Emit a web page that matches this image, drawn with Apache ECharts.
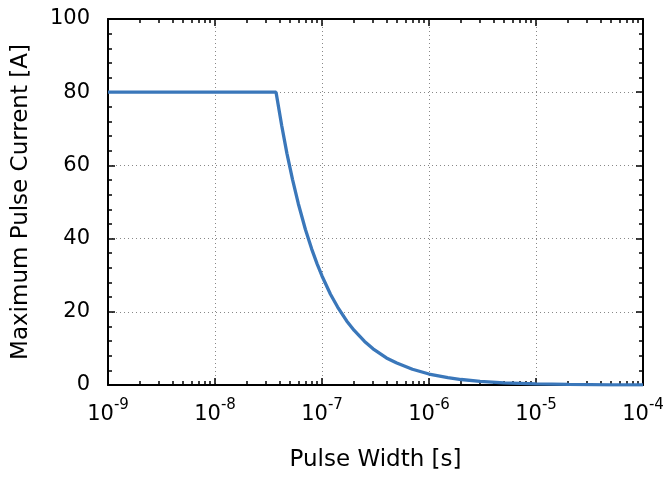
<!DOCTYPE html>
<html>
<head>
<meta charset="utf-8">
<script src="https://cdn.jsdelivr.net/npm/echarts@6/dist/echarts.min.js"></script>
<style>html,body{margin:0;padding:0;background:#fff;}#c{width:670px;height:477px;}</style>
</head>
<body>
<div id="c"></div>
<script>
// Pulse width [s]
const pulseWidth = [1e-9, 3.72e-8, 4.2e-8, 4.7e-8, 5.3e-8, 6e-8, 7e-8, 8e-8, 9e-8, 1e-7, 1.2e-7, 1.4e-7, 1.7e-7, 2e-7, 2.5e-7, 3e-7, 4e-7, 5e-7, 7e-7, 1e-6, 1.5e-6, 2e-6, 3e-6, 5e-6, 1e-5, 2e-5, 5e-5, 1e-4];
// Maximum pulse current [A]
const maxCurrent = [80, 80, 70.9, 63.3, 56.2, 49.6, 42.5, 37.2, 33.1, 29.8, 24.8, 21.3, 17.5, 14.9, 11.9, 9.9, 7.4, 6.0, 4.3, 3.0, 2.0, 1.5, 1.0, 0.6, 0.3, 0.15, 0.06, 0.03];
const xMin = 1e-9, xMax = 1e-4;
const yTicks = [0, 20, 40, 60, 80, 100];
const xLabel = 'Pulse Width [s]';
const yLabel = 'Maximum Pulse Current [A]';

const decMin = Math.round(Math.log10(xMin)), decMax = Math.round(Math.log10(xMax));
const minorPos = [];
for (let d = decMin; d < decMax; d++) for (let k = 2; k <= 9; k++) minorPos.push(d + Math.log10(k));

const FONT = 'DejaVu Sans';
const black = '#000';
const frameLine = { show: true, lineStyle: { color: black, width: 2 } };

const majorX = (pos) => ({
  type: 'log', logBase: 10, min: xMin, max: xMax, position: pos, splitNumber: decMax - decMin,
  axisLine: frameLine,
  axisTick: { show: true, inside: true, length: 7, lineStyle: { color: black, width: 1.5 } },
  minorTick: { show: false },
  axisLabel: pos === 'bottom' ? {
    show: true, margin: 13, fontFamily: FONT, color: black,
    formatter: v => '{b|10}{s|' + Math.round(Math.log10(v)) + '}',
    rich: {
      b: { fontSize: 21, lineHeight: 27, verticalAlign: 'bottom', fontFamily: FONT, color: black },
      s: { fontSize: 15, lineHeight: 15, verticalAlign: 'top', fontFamily: FONT, color: black }
    }
  } : { show: false },
  splitLine: pos === 'bottom' ? { show: true, lineStyle: { color: '#888', width: 1, type: [1, 3] } } : { show: false }
});
const minorX = (pos) => ({
  type: 'value', min: decMin, max: decMax, position: pos,
  axisLine: { show: false },
  axisTick: { show: true, inside: true, length: 4, customValues: minorPos, lineStyle: { color: black, width: 1.5 } },
  axisLabel: { show: false },
  splitLine: { show: false }
});
const yAx = (pos) => ({
  type: 'value', min: yTicks[0], max: yTicks[yTicks.length - 1], interval: yTicks[1] - yTicks[0], position: pos,
  axisLine: frameLine,
  axisTick: { show: true, inside: true, length: 7, lineStyle: { color: black, width: 1.5 } },
  minorTick: { show: true, splitNumber: 5, length: 4, lineStyle: { color: black, width: 1.5 } },
  axisLabel: pos === 'left' ? { show: true, margin: 18, fontSize: 21, fontFamily: FONT, color: black } : { show: false },
  splitLine: pos === 'left' ? { show: true, lineStyle: { color: '#888', width: 1, type: [1, 3] } } : { show: false },
  name: pos === 'left' ? yLabel : '',
  nameLocation: 'middle', nameGap: 75,
  nameTextStyle: { fontSize: 23, fontFamily: FONT, color: black }
});

const xa0 = majorX('bottom');
xa0.name = xLabel; xa0.nameLocation = 'middle'; xa0.nameGap = 64;
xa0.nameTextStyle = { fontSize: 23, fontFamily: FONT, color: black, verticalAlign: 'top' };

const chart = echarts.init(document.getElementById('c'));
chart.setOption({
  animation: false,
  backgroundColor: '#fff',
  grid: { left: 108, right: 27, top: 19, bottom: 90, containLabel: false },
  xAxis: [xa0, minorX('bottom'), majorX('top'), minorX('top')],
  yAxis: [yAx('left'), yAx('right')],
  series: [{
    type: 'line', xAxisIndex: 0, yAxisIndex: 0,
    data: pulseWidth.map((t, i) => [t, maxCurrent[i]]),
    showSymbol: false, smooth: false,
    lineStyle: { color: '#3a77ba', width: 3.3 },
    itemStyle: { color: '#3a77ba' },
    z: 5
  }]
});
</script>
</body>
</html>
